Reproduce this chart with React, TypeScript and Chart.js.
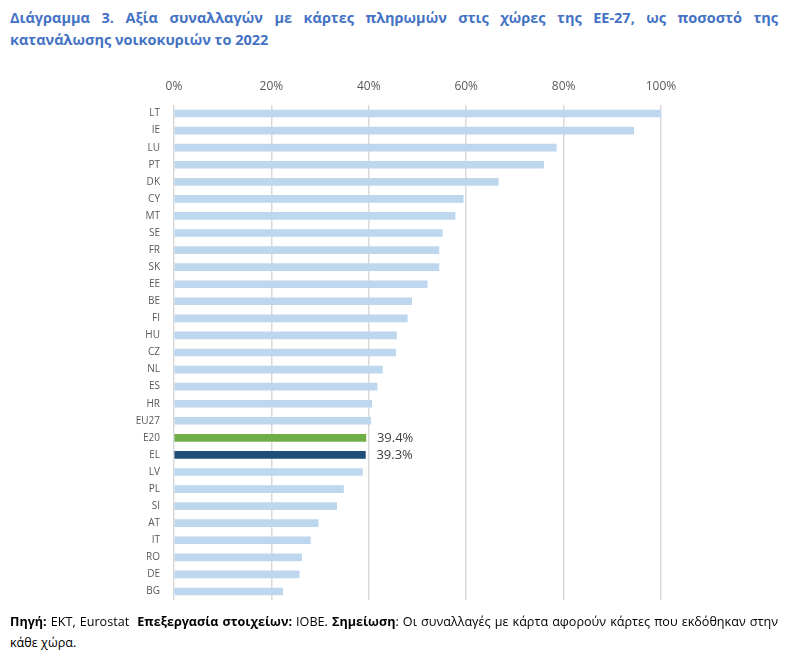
import React, { useEffect, useRef } from "react";
import { Chart, registerables } from "chart.js";

Chart.register(...registerables);

const categories = ["LT","IE","LU","PT","DK","CY","MT","SE","FR","SK","EE","BE","FI","HU","CZ","NL","ES","HR","EU27","E20","EL","LV","PL","SI","AT","IT","RO","DE","BG"];
const values = [100.0,94.4,78.5,75.9,66.6,59.4,57.7,55.1,54.4,54.4,52.0,48.8,47.9,45.7,45.5,42.8,41.7,40.6,40.4,39.4,39.3,38.7,34.8,33.4,29.6,28.0,26.2,25.7,22.3];
const xTicks = [0, 20, 40, 60, 80, 100];
const labelled = ["E20", "EL"];

const LIGHT = "#BDD7EE";
const GREEN = "#70AD47";
const DARK = "#1F4E79";

const barColors = categories.map((c) => (c === "E20" ? GREEN : c === "EL" ? DARK : LIGHT));

const valueLabelPlugin = {
  id: "valueLabels",
  afterDatasetsDraw(chart: any) {
    const ctx = chart.ctx;
    const meta = chart.getDatasetMeta(0);
    ctx.save();
    ctx.font = "13px 'Open Sans', sans-serif";
    ctx.fillStyle = "#404040";
    ctx.textBaseline = "middle";
    ctx.textAlign = "left";
    meta.data.forEach((el: any, i: number) => {
      if (!labelled.includes(categories[i])) return;
      ctx.fillText(values[i].toFixed(1) + "%", el.x + 11, el.y);
    });
    ctx.restore();
  },
};

function BarChart() {
  const ref = useRef<HTMLCanvasElement | null>(null);
  useEffect(() => {
    if (!ref.current) return;
    const chart = new Chart(ref.current, {
      type: "bar",
      data: {
        labels: categories,
        datasets: [
          {
            data: values,
            backgroundColor: barColors,
            borderWidth: 0,
            barThickness: 7,
          },
        ],
      },
      options: {
        indexAxis: "y",
        animation: false,
        responsive: false,
        maintainAspectRatio: false,
        layout: { padding: { left: 0, right: 127, top: 0, bottom: 0 } },
        plugins: {
          legend: { display: false },
          tooltip: { enabled: false },
        },
        scales: {
          x: {
            position: "top",
            min: 0,
            max: 100,
            afterBuildTicks(scale: any) {
              scale.ticks = xTicks.map((v) => ({ value: v }));
            },
            afterFit(scale: any) {
              scale.height = 33;
            },
            ticks: {
              callback: (v: any) => v + "%",
              color: "#595959",
              font: { family: "'Open Sans', sans-serif", size: 12 },
              padding: 11,
              maxRotation: 0,
            },
            grid: {
              color: "#D9D9D9",
              lineWidth: 1.5,
              drawTicks: false,
            },
            border: { display: false },
          },
          y: {
            afterFit(scale: any) {
              scale.width = 174;
            },
            ticks: {
              color: "#595959",
              font: { family: "'Open Sans', sans-serif", size: 10 },
              padding: 14,
              autoSkip: false,
            },
            grid: { display: false, drawTicks: false },
            border: { display: false },
          },
        },
      },
      plugins: [valueLabelPlugin],
    });
    return () => chart.destroy();
  }, []);
  return <canvas ref={ref} width={788} height={548} style={{ position: "absolute", left: 0, top: 72, width: 788, height: 548 }} />;
}

export default function App() {
  const titleStyle: React.CSSProperties = {
    position: "absolute",
    left: 10,
    width: 768,
    color: "#4472C4",
    fontFamily: "'Open Sans', sans-serif",
    fontWeight: 700,
    fontSize: 14.5,
    lineHeight: "22px",
    whiteSpace: "nowrap",
  };
  const footStyle: React.CSSProperties = {
    position: "absolute",
    left: 10,
    color: "#000",
    fontFamily: "'Open Sans', sans-serif",
    fontSize: 12.6,
    lineHeight: "20px",
  };
  return (
    <div style={{ position: "absolute", left: 0, top: 0, width: 788, height: 658, background: "#fff", overflow: "hidden" }}>
      <div style={{ ...titleStyle, top: 7, textAlign: "justify", textAlignLast: "justify" as any, whiteSpace: "normal" }}>
        Διάγραμμα 3. Αξία συναλλαγών με κάρτες πληρωμών στις χώρες της ΕΕ-27, ως ποσοστό της
      </div>
      <div style={{ ...titleStyle, top: 29 }}>κατανάλωσης νοικοκυριών το 2022</div>
      <BarChart />
      <div style={{ ...footStyle, top: 612, width: 768, textAlign: "justify", textAlignLast: "justify" as any }}>
        <b>Πηγή:</b> ΕΚΤ, Eurostat&nbsp; <b>Επεξεργασία στοιχείων:</b> ΙΟΒΕ. <b>Σημείωση</b>: Οι συναλλαγές με κάρτα αφορούν κάρτες που εκδόθηκαν στην
      </div>
      <div style={{ ...footStyle, top: 633, whiteSpace: "nowrap" }}>κάθε χώρα.</div>
    </div>
  );
}
